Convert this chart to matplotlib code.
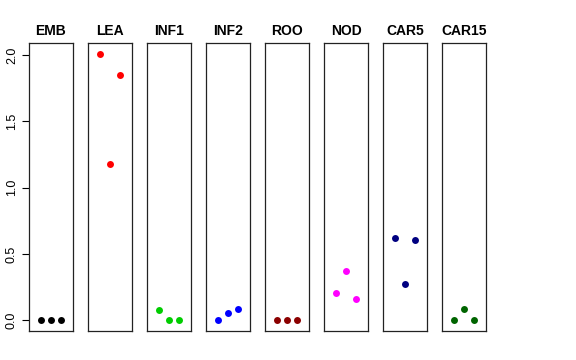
import numpy as np
import matplotlib
matplotlib.use('Agg')
import matplotlib.pyplot as plt

plt.rcParams['font.family'] = ['Liberation Sans', 'DejaVu Sans']

# tissues and the three replicate values in each
tissues = ['EMB', 'LEA', 'INF1', 'INF2', 'ROO', 'NOD', 'CAR5', 'CAR15']
values = [
    [0.0, 0.0, 0.0],
    [2.01, 1.18, 1.85],
    [0.075, 0.0, 0.0],
    [0.0, 0.053, 0.085],
    [0.0, 0.0, 0.0],
    [0.204, 0.375, 0.161],
    [0.617, 0.274, 0.606],
    [0.0, 0.085, 0.0],
]
colors = ['black', 'red', '#00cd00', 'blue', '#8b0000', 'magenta', '#000080', '#006400']
reps = [1, 2, 3]

fig = plt.figure(figsize=(5.76, 3.6), dpi=100)

left0 = 29 / 576
width = 44 / 576
step = 59 / 576
bottom = 1 - 331 / 360
height = (331 - 43) / 360

for i, name in enumerate(tissues):
    ax = fig.add_axes([left0 + i * step, bottom, width, height])
    ax.plot(reps, values[i], 'o', color=colors[i], ms=5, mec='none')
    ax.set_xlim(-0.16, 4.16)
    ax.set_ylim(-0.08, 2.09)
    ax.set_xticks([])
    for s in ax.spines.values():
        s.set_linewidth(0.9)
        s.set_color('#222222')
    ax.set_title(name, fontsize=10, fontweight='bold', pad=6)
    if i == 0:
        ax.set_yticks([0, 0.5, 1.0, 1.5, 2.0])
        ax.set_yticklabels(['0.0', '0.5', '1.0', '1.5', '2.0'], rotation=90, va='center', fontsize=9)
        ax.tick_params(axis='y', length=5, width=0.8, pad=3)
    else:
        ax.set_yticks([])

fig.savefig('out.png', dpi=100)
